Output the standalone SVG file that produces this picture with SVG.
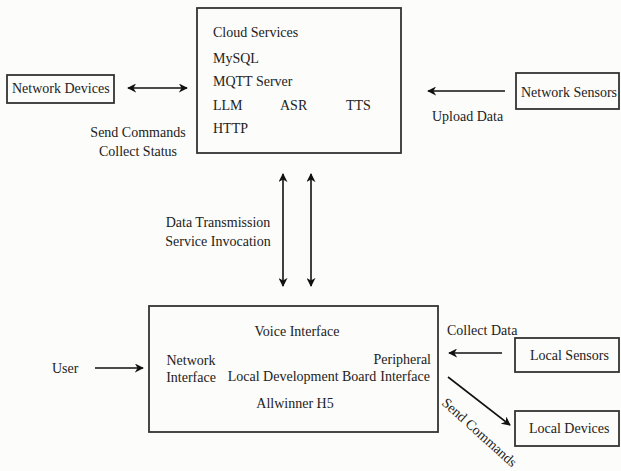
<svg xmlns="http://www.w3.org/2000/svg" width="621" height="471" viewBox="0 0 621 471">
  <defs>
    <style>
      .box { fill: none; stroke: #333; stroke-width: 1.8; }
      .t { font-family: "Liberation Serif", "Times New Roman", serif; font-size: 14px; fill: #222; }
      .m { text-anchor: middle; }
      .e { text-anchor: end; }
      .wire { stroke: #111; stroke-width: 1.6; fill: none; }
    </style>
    <marker id="arrow" viewBox="0 0 10 10" refX="9" refY="5" markerWidth="9" markerHeight="9" markerUnits="userSpaceOnUse" orient="auto-start-reverse">
      <path d="M0,0 L10,5 L0,10 L3,5 Z" fill="#111"/>
    </marker>
  </defs>

  <rect width="621" height="471" fill="#fcfcfa"/>

  <!-- cloud services -->
  <g id="cloud-services">
    <rect class="box" x="197" y="8" width="204" height="145"/>
    <text class="t" x="213" y="37">Cloud Services</text>
    <text class="t" x="213" y="63">MySQL</text>
    <text class="t" x="213" y="86">MQTT Server</text>
    <text class="t" x="213" y="110">LLM</text>
    <text class="t" x="280" y="110">ASR</text>
    <text class="t" x="346" y="110">TTS</text>
    <text class="t" x="213" y="133">HTTP</text>
  </g>

  <g id="network-devices">
    <rect class="box" x="7" y="75" width="107" height="28"/>
    <text class="t" x="12" y="93">Network Devices</text>
  </g>

  <g id="network-sensors">
    <rect class="box" x="516" y="73" width="103" height="36"/>
    <text class="t" x="521" y="97">Network Sensors</text>
  </g>

  <g id="dev-board">
    <rect class="box" x="149" y="306" width="289" height="126"/>
    <text class="t m" x="297" y="336">Voice Interface</text>
    <text class="t m" x="191" y="365">Network</text>
    <text class="t m" x="191" y="382">Interface</text>
    <text class="t e" x="431" y="364">Peripheral</text>
    <text class="t e" x="430" y="381">Interface</text>
    <text class="t m" x="302" y="381">Local Development Board</text>
    <text class="t m" x="295" y="408">Allwinner H5</text>
  </g>

  <g id="local-sensors">
    <rect class="box" x="515" y="338" width="104" height="34"/>
    <text class="t" x="530" y="360">Local Sensors</text>
  </g>

  <g id="local-devices">
    <rect class="box" x="515" y="411" width="104" height="35"/>
    <text class="t" x="529" y="433">Local Devices</text>
  </g>

  <g id="user">
    <text class="t" x="52" y="373">User</text>
  </g>

  <!-- connectors -->
  <g id="connectors">
    <line class="wire" x1="128" y1="88" x2="187" y2="88" marker-start="url(#arrow)" marker-end="url(#arrow)"/>
    <line class="wire" x1="505" y1="91" x2="428" y2="91" marker-end="url(#arrow)"/>
    <line class="wire" x1="283" y1="174" x2="283" y2="286" marker-start="url(#arrow)" marker-end="url(#arrow)"/>
    <line class="wire" x1="311" y1="174" x2="311" y2="286" marker-start="url(#arrow)" marker-end="url(#arrow)"/>
    <line class="wire" x1="95" y1="368" x2="143" y2="368" marker-end="url(#arrow)"/>
    <line class="wire" x1="502" y1="353" x2="449" y2="353" marker-end="url(#arrow)"/>
    <line class="wire" x1="448" y1="377" x2="510" y2="425" marker-end="url(#arrow)"/>

    <text class="t m" x="138" y="137">Send Commands</text>
    <text class="t m" x="138" y="156">Collect Status</text>
    <text class="t" x="432" y="121">Upload Data</text>
    <text class="t m" x="218" y="227">Data Transmission</text>
    <text class="t m" x="218" y="246">Service Invocation</text>
    <text class="t" x="447" y="335">Collect Data</text>
    <text class="t" transform="translate(441,404) rotate(42)">Send Commands</text>
  </g>
</svg>
